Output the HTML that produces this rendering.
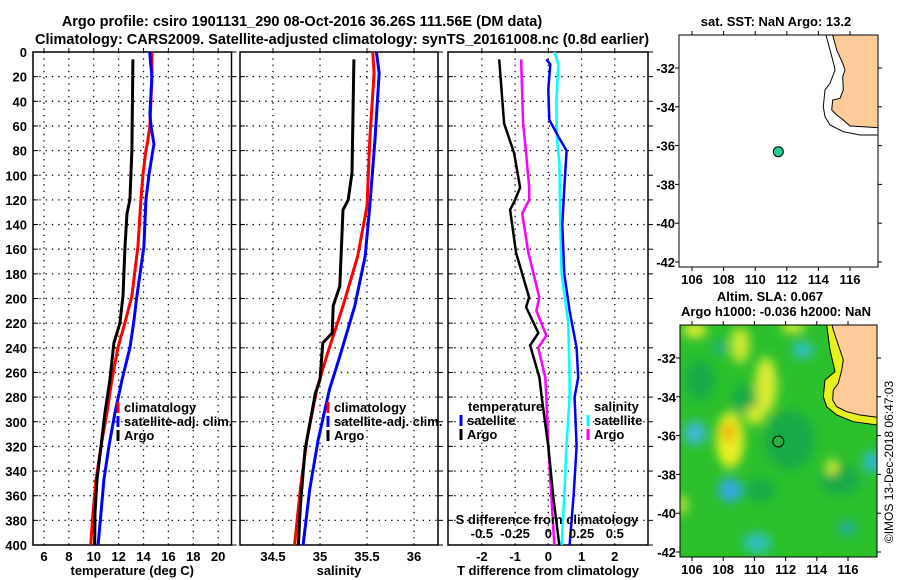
<!DOCTYPE html>
<html><head><meta charset="utf-8">
<style>
html,body{margin:0;padding:0;background:#fff;}
svg{display:block;font-family:"Liberation Sans",sans-serif;font-weight:bold;}
</style></head>
<body>
<svg id="c" width="900" height="580" viewBox="0 0 900 580" xmlns="http://www.w3.org/2000/svg">
<defs>
<filter id="blur" x="-20%" y="-20%" width="140%" height="140%"><feGaussianBlur stdDeviation="5"/></filter>
<clipPath id="mapclip"><rect x="680" y="325" width="197" height="232"/></clipPath>
</defs>
<g font-size="14.5" text-anchor="middle" fill="#000">
<text x="302" y="26">Argo profile: csiro 1901131_290 08-Oct-2016 36.26S 111.56E (DM data)</text>
<text x="342" y="44">Climatology: CARS2009. Satellite-adjusted climatology: synTS_20161008.nc (0.8d earlier)</text>
</g>
<g id="plots"></g>

<!-- top map -->
<g>
<text x="776" y="26" font-size="13" text-anchor="middle">sat. SST: NaN Argo: 13.2</text>
<rect x="679" y="35" width="199" height="232" fill="#fff" stroke="#000"/>
<polygon points="832.7,35 836.7,50 842.7,63.3 845,70 842.7,76.7 843.3,90 840,98.3 832.7,100 831.7,110 836.7,115 843.3,120 850,126 863.3,126.7 878,127.7 878,35" fill="#ffcc99" stroke="#000" stroke-width="1"/>
<polyline points="826,35 830,50 834,65 835,70 830,83.3 825,90 823.3,106.7 825,116.7 830,125 843.3,131.7 860,135 878,135" fill="none" stroke="#000" stroke-width="1"/>
<circle cx="778.3" cy="151.7" r="5" fill="#22cc99" stroke="#000"/>
<g id="topmapaxes"></g>
</g>

<!-- bottom map -->
<g>
<text x="770" y="301" font-size="13" text-anchor="middle">Altim. SLA: 0.067</text>
<text x="776" y="316" font-size="13" text-anchor="middle">Argo h1000: -0.036 h2000: NaN</text>
<g clip-path="url(#mapclip)">
<rect x="680" y="325" width="197" height="232" fill="#2cc02c"/>
<g filter="url(#blur)">
<ellipse cx="745" cy="400" rx="12" ry="16" fill="#12a84a"/>
<ellipse cx="790" cy="440" rx="25" ry="30" fill="#14aa48"/>
<ellipse cx="700" cy="380" rx="15" ry="20" fill="#14aa48"/>
<ellipse cx="840" cy="480" rx="20" ry="15" fill="#14aa48"/>
<ellipse cx="760" cy="490" rx="15" ry="12" fill="#14aa48"/>
<ellipse cx="740" cy="345" rx="10" ry="18" fill="#c8e830"/>
<ellipse cx="766" cy="385" rx="11" ry="28" fill="#d8ec30"/>
<ellipse cx="755" cy="415" rx="10" ry="10" fill="#d0e830"/>
<ellipse cx="730" cy="440" rx="14" ry="28" fill="#e8f020"/>
<ellipse cx="728" cy="432" rx="7" ry="10" fill="#f0b010"/>
<ellipse cx="695" cy="330" rx="12" ry="8" fill="#d8ec30"/>
<ellipse cx="793" cy="327" rx="12" ry="6" fill="#d8ec30"/>
<ellipse cx="832" cy="467" rx="6" ry="8" fill="#d8ec30"/>
<ellipse cx="682" cy="505" rx="6" ry="10" fill="#b0e030"/>
<ellipse cx="695" cy="433" rx="11" ry="12" fill="#40b8d8"/>
<ellipse cx="730" cy="490" rx="12" ry="12" fill="#30a8e0"/>
<ellipse cx="803" cy="350" rx="11" ry="9" fill="#30c0c0"/>
<ellipse cx="872" cy="462" rx="9" ry="11" fill="#30b8d0"/>
<ellipse cx="757" cy="543" rx="14" ry="10" fill="#30c0c0"/>
<ellipse cx="847" cy="528" rx="10" ry="8" fill="#20b090"/>
<ellipse cx="720" cy="347" rx="7" ry="8" fill="#20b080"/>
</g>
<polygon points="826.7,325 830,350 835,371.7 825,380 823.3,396.7 826.7,406.7 836.7,415 853.3,421.7 877,425 877,325" fill="#e8f020" stroke="#000" stroke-width="1"/>
<polygon points="832,325 833.3,330 840,350 843.3,360 841.7,370 838.3,383.3 833.3,390 832.7,400 836.7,406.7 846.7,411.7 860,415 877.3,417.3 877,325" fill="#ffcc99" stroke="#000" stroke-width="1"/>
</g>
<rect x="680" y="325" width="197" height="232" fill="none" stroke="#000"/>
<circle cx="778.3" cy="441.5" r="5.5" fill="#2cb040" stroke="#000"/>
<g id="botmapaxes"></g>
</g>
<text transform="translate(893,462) rotate(-90)" font-size="12" font-weight="normal" text-anchor="middle">©IMOS 13-Dec-2018 06:47:03</text>
</svg>
<script>
// ---- data ----
const tDepth = [0, 20, 50, 60, 75, 80, 100, 120, 158, 198, 220, 240, 266, 293, 320, 347, 374, 400];
const tClim = [14.67, 14.67, 14.55, 14.51, 14.3, 14.19, 13.95, 13.79, 13.55, 13.07, 12.5, 11.94, 11.46, 11.06, 10.58, 10.18, 9.94, 9.76];
const tSat = [14.5, 14.67, 14.51, 14.6, 14.84, 14.75, 14.43, 14.19, 14.03, 13.47, 13.2, 12.91, 12.27, 11.7, 11.22, 10.82, 10.58, 10.35];
const argoDepth = [6, 80, 100, 120, 131, 158, 198, 220, 236, 266, 293, 320, 347, 374, 400];
const tArgo = [13.15, 13.07, 12.99, 12.91, 12.67, 12.51, 12.35, 12.1, 11.62, 11.3, 10.9, 10.58, 10.26, 10.1, 10.08];
const sDepth = [0, 17, 71, 125, 166, 206, 247, 274, 315, 355, 400];
const sClim = [35.56, 35.575, 35.53, 35.5, 35.4, 35.245, 35.07, 34.965, 34.86, 34.79, 34.73];
const sSat = [35.6, 35.63, 35.585, 35.53, 35.48, 35.37, 35.21, 35.1, 34.98, 34.89, 34.82];
const sArgoDepth = [6, 98, 120, 128, 190, 206, 228, 236, 266, 277, 323, 369, 400];
const sArgo = [35.36, 35.34, 35.3, 35.245, 35.21, 35.14, 35.13, 35.03, 35.0, 34.95, 34.84, 34.79, 34.77];
const dDepthA = [6, 58, 82, 110, 120, 128, 163, 199, 207, 228, 238, 264, 280, 320, 361, 400];
const tDiffArgo = [-1.48, -1.33, -1.03, -0.85, -1.0, -1.15, -0.97, -0.58, -0.67, -0.3, -0.55, -0.27, -0.2, 0.0, 0.15, 0.33];
const dDepthS = [6, 58, 82, 110, 120, 131, 163, 199, 210, 230, 240, 264, 280, 320, 361, 400];
const sDiffArgo = [-0.205, -0.19, -0.167, -0.144, -0.144, -0.197, -0.15, -0.068, -0.09, -0.015, -0.076, -0.023, -0.015, 0.0, 0.023, 0.045];
const dDepthSat = [6, 10, 30, 55, 70, 80, 110, 140, 180, 210, 240, 264, 280, 320, 360, 400];
const tDiffSat = [-0.06, 0.06, 0.0, 0.03, 0.33, 0.55, 0.48, 0.42, 0.48, 0.64, 0.85, 0.9, 0.79, 0.85, 0.76, 0.64];
const dDepthSSat = [0, 10, 40, 70, 90, 140, 180, 220, 264, 280, 320, 360, 400];
const sDiffSat = [0.045, 0.076, 0.06, 0.065, 0.083, 0.09, 0.1, 0.15, 0.16, 0.16, 0.136, 0.12, 0.1];
const depthTicks = [0,20,40,60,80,100,120,140,160,180,200,220,240,260,280,300,320,340,360,380,400];
const tTicks = [6,8,10,12,14,16,18,20];
const sTicks = [34.5,35,35.5,36];
const dTTicks = [-2,-1,0,1,2];
const dSTicks = [-0.5,-0.25,0,0.25,0.5];
const dSTickLabels = ['-0.5','-0.25','0','0.25','0.5'];
const latTicks = [-32,-34,-36,-38,-40,-42];
const lonTicks = [106,108,110,112,114,116];

const NS = 'http://www.w3.org/2000/svg';
const root = document.getElementById('plots');
function mk(tag, attrs, parent, txt){
  const e = document.createElementNS(NS, tag);
  for (const k in attrs) e.setAttribute(k, attrs[k]);
  if (txt !== undefined) e.textContent = txt;
  (parent || root).appendChild(e);
  return e;
}
const Y0 = 52, Y1 = 545;
const yD = d => Y0 + d / 400 * (Y1 - Y0);
function lin(d0, d1, r0, r1){ return v => r0 + (v - d0) / (d1 - d0) * (r1 - r0); }

const panels = [
  {name:'temperature-panel', x0:33, x1:231.5, sc:lin(5.12,21.07,33,231.5), ticks:tTicks, labels:tTicks.map(String), xlabel:'temperature (deg C)', yl:true},
  {name:'salinity-panel', x0:240, x1:438, sc:lin(34.149,36.255,240,438), ticks:sTicks, labels:sTicks.map(String), xlabel:'salinity'},
  {name:'difference-panel', x0:448, x1:648, sc:lin(-3.02,3.0,448,648), ticks:dTTicks, labels:dTTicks.map(String), xlabel:'T difference from climatology'}
];
panels.forEach(p => {
  const g = mk('g', {});
  
  
  depthTicks.forEach(d => {
    const y = yD(d);
    if (d > 0 && d < 400) {
      const gl = mk('line', {x1:p.x0, x2:p.x1, y1:y, y2:y, stroke:'#000', 'stroke-width':1.3, 'stroke-dasharray':'1.3 5'}, g);
      
      
    }
    mk('line', {x1:p.x0, x2:p.x0+5, y1:y, y2:y, stroke:'#000'}, g);
    mk('line', {x1:p.x1, x2:p.x1+5, y1:y, y2:y, stroke:'#000'}, g);
    if (p.yl) {
      const t = mk('text', {x:27, y:y+5, 'font-size':13, 'text-anchor':'end'}, g, String(d));
      
      
    }
  });
  p.ticks.forEach((v, i) => {
    const x = p.sc(v);
    const gl = mk('line', {x1:x, x2:x, y1:Y0, y2:Y1, stroke:'#000', 'stroke-width':1.3, 'stroke-dasharray':'1.3 5'}, g);
    
    
    mk('line', {x1:x, x2:x, y1:Y0-4, y2:Y0, stroke:'#000'}, g);
    const t = mk('text', {x:x, y:561, 'font-size':13, 'text-anchor':'middle'}, g, p.labels[i]);
    
    
  });
  const fr = mk('rect', {x:p.x0, y:Y0, width:p.x1-p.x0, height:Y1-Y0, fill:'none', stroke:'#000', 'stroke-width':1.5}, g);
  
  
  const xl = mk('text', {x:(p.x0+p.x1)/2, y:575, 'font-size':13, 'text-anchor':'middle'}, g, p.xlabel);
  
  
  p.g = g;
});
const yt = mk('text', {x:9, y:20, 'font-size':1, fill:'none'}, root, '');



function series(p, xs, ds, color, w, name){
  const pts = xs.map((v, i) => p.sc(v).toFixed(1) + ',' + yD(ds[i]).toFixed(1)).join(' ');
  const l = mk('polyline', {points:pts, fill:'none', stroke:color, 'stroke-width':w, 'stroke-linejoin':'round'}, p.g);
  
  
}
const P1 = panels[0], P2 = panels[1], P3 = panels[2];
series(P1, tClim, tDepth, '#ff0000', 3, 'temperature-climatology-line');
series(P1, tSat, tDepth, '#0000ff', 3, 'temperature-satellite-line');
series(P1, tArgo, argoDepth, '#000000', 3, 'temperature-argo-line');
series(P2, sClim, sDepth, '#ff0000', 3, 'salinity-climatology-line');
series(P2, sSat, sDepth, '#0000ff', 3, 'salinity-satellite-line');
series(P2, sArgo, sArgoDepth, '#000000', 3, 'salinity-argo-line');
const P3s = {g:P3.g, sc: v => P3.sc(v * 4)};
series(P3s, sDiffSat, dDepthSSat, '#00ffff', 2.5, 'salinity-diff-satellite-line');
series(P3s, sDiffArgo, dDepthS, '#ff00ff', 2.5, 'salinity-diff-argo-line');
series(P3, tDiffSat, dDepthSat, '#0000ff', 2.5, 'temperature-diff-satellite-line');
series(P3, tDiffArgo, dDepthA, '#000000', 2.5, 'temperature-diff-argo-line');

// S difference axis
dSTicks.forEach((v, i) => {
  const t = mk('text', {x:P3s.sc(v), y:538, 'font-size':13, 'text-anchor':'middle'}, P3.g, dSTickLabels[i]);
  
  
});
const st = mk('text', {x:547, y:524, 'font-size':13, 'text-anchor':'middle'}, P3.g, 'S difference from climatology');



// legends
function legend(g, x, y, color, label, name){
  const lg = mk('g', {}, g);
  
  
  mk('line', {x1:x, x2:x, y1:y-10, y2:y+1, stroke:color, 'stroke-width':3}, lg);
  mk('text', {x:x+6, y:y, 'font-size':13}, lg, label);
}
legend(P1.g, 118, 412, '#ff0000', 'climatology', 'legend-climatology');
legend(P1.g, 118, 426, '#0000ff', 'satellite-adj. clim.', 'legend-satellite');
legend(P1.g, 118, 440, '#000000', 'Argo', 'legend-argo');
legend(P2.g, 328, 412, '#ff0000', 'climatology', 'legend-climatology');
legend(P2.g, 328, 426, '#0000ff', 'satellite-adj. clim.', 'legend-satellite');
legend(P2.g, 328, 440, '#000000', 'Argo', 'legend-argo');
const lt = mk('text', {x:468, y:411, 'font-size':13}, P3.g, 'temperature');


legend(P3.g, 461, 425, '#0000ff', 'satellite', 'legend-temperature-satellite');
legend(P3.g, 461, 439, '#000000', 'Argo', 'legend-temperature-argo');
const ls = mk('text', {x:594, y:411, 'font-size':13}, P3.g, 'salinity');


legend(P3.g, 588, 425, '#00ffff', 'satellite', 'legend-salinity-satellite');
legend(P3.g, 588, 439, '#ff00ff', 'Argo', 'legend-salinity-argo');

// map axes
function mapAxes(id, x0, x1, y0, y1, latY, lonX){
  const g = document.getElementById(id);
  latTicks.forEach(la => {
    const y = latY(la);
    mk('line', {x1:x0-4, x2:x0, y1:y, y2:y, stroke:'#000'}, g);
    mk('line', {x1:x1, x2:x1+4, y1:y, y2:y, stroke:'#000'}, g);
    const t = mk('text', {x:x0-4, y:y+5, 'font-size':13, 'text-anchor':'end'}, g, String(la));
    
    
  });
  lonTicks.forEach(lo => {
    const x = lonX(lo);
    mk('line', {x1:x, x2:x, y1:y0-4, y2:y0, stroke:'#000'}, g);
    mk('line', {x1:x, x2:x, y1:y1, y2:y1+4, stroke:'#000'}, g);
    const t = mk('text', {x:x, y:y1+17, 'font-size':13, 'text-anchor':'middle'}, g, String(lo));
    
    
  });
}
mapAxes('topmapaxes', 679, 878, 35, 267, lin(-32,-42,68,262), lin(106,116,692,850));
mapAxes('botmapaxes', 680, 877, 325, 557, lin(-32,-42,358,552), lin(106,116,692,848));
</script>
</body></html>
